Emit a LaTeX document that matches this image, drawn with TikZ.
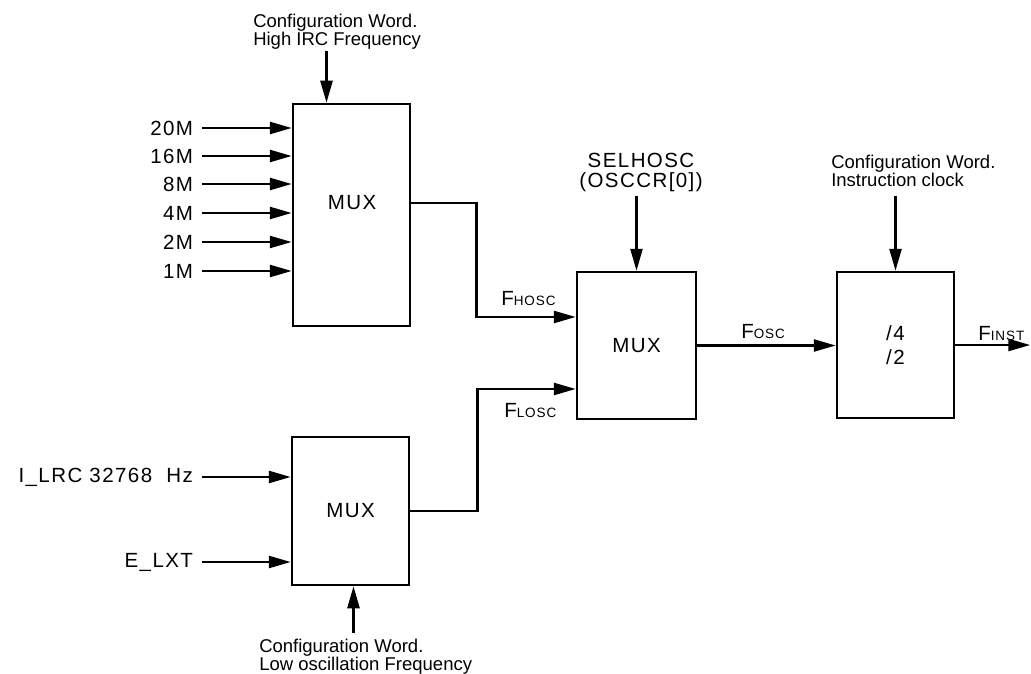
\documentclass[tikz,border=0pt]{standalone}
\usepackage{fontspec}
\setmainfont{Liberation Sans}[LetterSpace=7]
\newfontfamily\notefont{Liberation Sans}
\usetikzlibrary{arrows.meta, positioning}
\newcommand{\osub}[1]{{\fontsize{13.5}{13.5}\selectfont #1}}

\begin{document}
\begin{tikzpicture}[x=1pt,y=-1pt,->,>={Triangle[length=22pt,width=12pt]},
                    line width=2.5pt]
  \tikzstyle{mux} = [draw, rectangle, line width=2.5pt, minimum width=117pt,
                     inner sep=0pt, font=\fontsize{20.5}{24}\selectfont, align=center]
  \tikzstyle{txt} = [inner sep=0pt, font=\fontsize{20.5}{20}\selectfont]
  \tikzstyle{inlbl} = [txt, outer xsep=9pt, anchor=east]
  \tikzstyle{note} = [inner sep=0pt, align=left, font=\notefont\fontsize{18.5}{18}\selectfont]
  \useasboundingbox (0,0) rectangle (1031,674);

  % blocks
  \node [mux, minimum height=222pt] (hmux) at (351.5,215) {};
  \node [txt] (hmuxtxt) at (352,203) {MUX};
  \node [mux, minimum height=148pt] (lmux) at (350.5,511) {MUX};
  \node [mux, minimum width=119pt, minimum height=147pt] (smux) at (636.5,345.5) {MUX};
  \node [mux, minimum height=146pt] (div) at (895.5,345) {/4\\/2};

  % high frequency inputs
  \foreach \lab/\yy in {20M/128, 16M/156, 8M/184, 4M/213, 2M/242, 1M/271} {
    \node [inlbl] (in\lab) at (202,\yy) {\lab};
    \draw (in\lab) -- (in\lab -| hmux.west);
  }

  % low frequency inputs
  \node [inlbl] (ilrc) at (202,477) {I\_LRC 32768~~Hz};
  \node [inlbl] (elxt) at (202,562) {E\_LXT};
  \draw (ilrc) -- (ilrc -| lmux.west);
  \draw (elxt) -- (elxt -| lmux.west);

  % configuration words
  \node [note, anchor=north west] (hcfg) at (252,13)
    {Configuration Word.\\High IRC Frequency};
  \node [note, anchor=north west] (lcfg) at (258,638)
    {Configuration Word.\\Low oscillation Frequency};
  \node [note, anchor=north west] (dcfg) at (830,154)
    {Configuration Word.\\Instruction clock};
  \node [txt, align=center, anchor=north] (sel) at (641,152)
    {SELHOSC\\(OSCCR[0])};

  \coordinate (htop) at ([xshift=-25pt,yshift=52pt]hmux.north);
  \coordinate (lbot) at ([xshift=3pt,yshift=-47pt]lmux.south);
  \coordinate (stop) at ([yshift=75pt]smux.north);
  \coordinate (dtop) at ([yshift=75pt]div.north);
  \draw (htop) -- (htop |- hmux.north);
  \draw (lbot) -- (lbot |- lmux.south);
  \draw (stop) -- (smux.north);
  \draw (dtop) -- (div.north);

  % clock paths
  \coordinate (hin) at ([yshift=28.5pt]smux.west);
  \coordinate (lin) at ([yshift=-43.5pt]smux.west);
  \coordinate (fout) at ([xshift=75pt]div.east);
  \draw ([yshift=12pt]hmux.east) -- ++(65,0) |- (hin);
  \draw (lmux.east) -- ++(67,0) |- (lin);
  \draw (smux.east) -- (smux.east -| div.west);
  \draw (div.east) -- (fout);

  % signal names
  \node [txt, anchor=base west] (fhosc) at (500,305) {F\osub{HOSC}};
  \node [txt, anchor=base west] (flosc) at (503,417) {F\osub{LOSC}};
  \node [txt, anchor=base west] (fosc) at (740,338) {F\osub{OSC}};
  \node [txt, anchor=base west] (finst) at (977,340) {F\osub{INST}};
\end{tikzpicture}
\end{document}
